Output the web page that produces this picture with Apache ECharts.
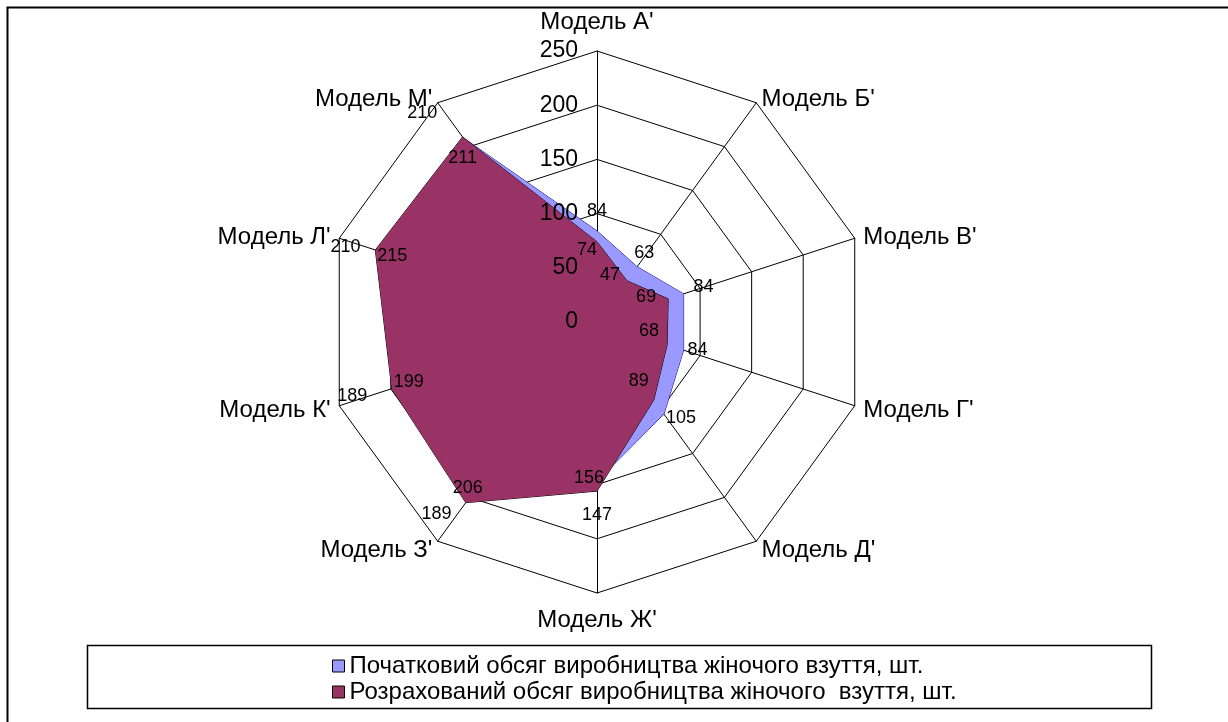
<!DOCTYPE html>
<html><head><meta charset="utf-8">
<script src="https://cdn.jsdelivr.net/npm/echarts@6/dist/echarts.min.js"></script>
<style>html,body{margin:0;padding:0;background:#fff;}#c{width:1228px;height:722px;}</style>
</head><body><div id="c"></div>
<script>
const categories = ["Модель А'", "Модель Б'", "Модель В'", "Модель Г'", "Модель Д'", "Модель Ж'", "Модель З'", "Модель К'", "Модель Л'", "Модель М'"];
const initialValues = [84, 63, 84, 84, 105, 147, 189, 189, 210, 210];
const calculatedValues = [74, 47, 69, 68, 89, 156, 206, 199, 215, 211];
const seriesNames = ["Початковий обсяг виробництва жіночого взуття, шт.", "Розрахований обсяг виробництва жіночого  взуття, шт."];
const axisMax = 250;
const axisStep = 50;

// label placement offsets (style only)
const initialLabelOffsets = [[0,-20],[7,-14],[20,-7],[14,0],[17,4],[0,34],[-40,26],[-50,11],[-35,-5],[-41,-25]];
const calcLabelOffsets = [[-10,8],[-17,-6],[-22,-2],[-18,-14],[-15,-19],[-8,-13],[2,-15],[17,-7],[17,6],[0,21]];
// category name style keys (style only)
const nameStyleKeys = ['up', 'mid1', 'mid', 'mid', 'mid', 'down', 'mid', 'mid', 'mid', 'mid1'];

const FONT = 'Liberation Sans, Arial, sans-serif';
const CX = 597, CY = 322, R = 271;
const NAME_FS = 24;

// radar goes counter-clockwise; reorder so categories run clockwise
const order = categories.map((_, i) => (categories.length - i) % categories.length);
const indicators = order.map(i => ({ name: categories[i], max: axisMax, min: 0 }));
const reorder = arr => order.map(i => arr[i]);

const chart = echarts.init(document.getElementById('c'), null, { renderer: 'canvas' });
const labelData = (vals, offs) => vals.map((v, i) => ({
  value: [v, i],
  label: { offset: offs[i] }
}));
const labelStyle = { show: true, position: 'inside', color: '#000', opacity: 1, fontFamily: FONT, fontSize: 18, formatter: p => p.value[0] };

chart.setOption({
  backgroundColor: '#fff',
  animation: false,
  textStyle: { fontFamily: FONT },
  graphic: [
    { type: 'rect', shape: { x: 7.5, y: 7.5, width: 1300, height: 800 }, style: { fill: null, stroke: '#000', lineWidth: 2 }, silent: true, z: -10 },
    { type: 'rect', shape: { x: 87.5, y: 645.5, width: 1064, height: 63 }, style: { fill: '#fff', stroke: '#000', lineWidth: 1.5 }, silent: true, z: -5 }
  ],
  legend: {
    orient: 'vertical',
    left: 327, top: 649,
    itemWidth: 12, itemHeight: 12, itemGap: 2,
    icon: 'rect',
    itemStyle: { borderColor: '#000', borderWidth: 1 },
    textStyle: { fontFamily: FONT, fontSize: 24, color: '#000' },
    data: seriesNames
  },
  radar: {
    center: [CX, CY], radius: R,
    startAngle: 90,
    shape: 'polygon',
    splitNumber: axisMax / axisStep,
    indicator: indicators,
    axisName: {
      color: '#000', fontFamily: FONT, fontSize: NAME_FS,
      formatter: (name) => '{' + nameStyleKeys[categories.indexOf(name)] + '|' + name + '}',
      rich: {
        up: { fontSize: NAME_FS, fontFamily: FONT, color: '#000', padding: [0, 0, 8, 0] },
        down: { fontSize: NAME_FS, fontFamily: FONT, color: '#000', padding: [6, 0, 0, 0] },
        mid1: { fontSize: NAME_FS, fontFamily: FONT, color: '#000', padding: [8, 0, 0, 0] },
        mid: { fontSize: NAME_FS, fontFamily: FONT, color: '#000', padding: [3, 0, 0, 0] }
      }
    },
    nameGap: 9,
    axisLine: { lineStyle: { color: '#000', width: 1 } },
    splitLine: { lineStyle: { color: '#000', width: 1 } },
    splitArea: { show: false },
    axisTick: { show: false },
    axisLabel: { show: false }
  },
  polar: { center: [CX, CY], radius: R },
  angleAxis: { type: 'value', min: 0, max: categories.length, startAngle: 90, clockwise: true, show: false },
  radiusAxis: {
    type: 'value', min: 0, max: axisMax, interval: axisStep,
    axisLine: { show: false }, axisTick: { show: false }, splitLine: { show: false },
    axisLabel: { show: true, color: '#000', fontFamily: FONT, fontSize: 23, margin: 19 },
    z: 20
  },
  series: [
    {
      type: 'radar', name: seriesNames[0], symbol: 'none', z: 2,
      itemStyle: { color: '#9999FF' },
      lineStyle: { color: '#000080', width: 1 },
      areaStyle: { color: '#9999FF', opacity: 1 },
      data: [{ name: seriesNames[0], value: reorder(initialValues) }]
    },
    {
      type: 'radar', name: seriesNames[1], symbol: 'none', z: 3,
      itemStyle: { color: '#993366' },
      lineStyle: { color: '#000', width: 1 },
      areaStyle: { color: '#993366', opacity: 1 },
      data: [{ name: seriesNames[1], value: reorder(calculatedValues) }]
    },
    {
      type: 'scatter', coordinateSystem: 'polar', symbolSize: 0, z: 10, silent: true,
      itemStyle: { opacity: 1 },
      label: labelStyle,
      data: labelData(initialValues, initialLabelOffsets)
    },
    {
      type: 'scatter', coordinateSystem: 'polar', symbolSize: 0, z: 10, silent: true,
      itemStyle: { opacity: 1 },
      label: labelStyle,
      data: labelData(calculatedValues, calcLabelOffsets)
    }
  ]
});
</script></body></html>
